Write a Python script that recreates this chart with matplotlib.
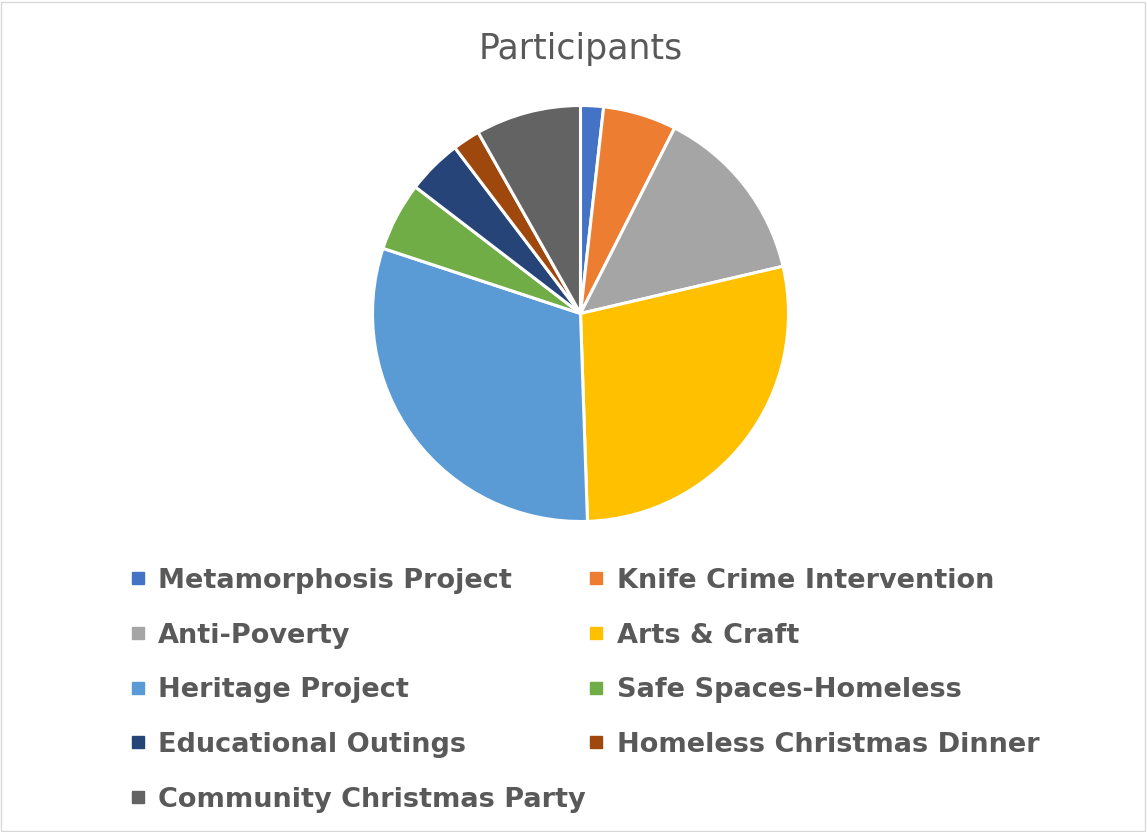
import matplotlib
matplotlib.use("Agg")
import matplotlib.pyplot as plt
from matplotlib.lines import Line2D
from matplotlib.patches import Rectangle

# data (clockwise from 12 o'clock)
labels = ["Metamorphosis Project", "Knife Crime Intervention", "Anti-Poverty",
          "Arts & Craft", "Heritage Project", "Safe Spaces-Homeless",
          "Educational Outings", "Homeless Christmas Dinner",
          "Community Christmas Party"]
values = [5, 16, 39, 79, 86, 15, 12, 6, 23]
colors = ["#4472C4", "#ED7D31", "#A5A5A5", "#FFC000", "#5B9BD5",
          "#70AD47", "#264478", "#9E480E", "#636363"]

W, H = 1147, 832
fig = plt.figure(figsize=(W / 100, H / 100), dpi=100)

# pie centred at (580, 313) px, radius 208 px
cx, cy, r = 580.5, 313.5, 208
ax = fig.add_axes([(cx - r) / W, 1 - (cy + r) / H, 2 * r / W, 2 * r / H])
ax.pie(values, colors=colors, startangle=90, counterclock=False,
       wedgeprops=dict(edgecolor="white", linewidth=2.2))
ax.set_xlim(-1, 1)
ax.set_ylim(-1, 1)
ax.set_aspect("equal")
ax.axis("off")

fig.text(581 / W, 1 - 49 / H, "Participants", ha="center", va="center",
         fontsize=25, color="#595959", family="DejaVu Sans", fontweight="normal")

# legend, two columns filled row by row (matplotlib fills by column)
order = [0, 2, 4, 6, 8, 1, 3, 5, 7]
handles = [Line2D([], [], marker="s", linestyle="none", markersize=8,
                  markerfacecolor=colors[i], markeredgecolor=colors[i]) for i in order]
leg = fig.legend(handles, [labels[i] for i in order], ncol=2, loc="upper left",
                 bbox_to_anchor=(116 / W, 1 - 557 / H), frameon=False,
                 fontsize=19.5, labelspacing=1.06, columnspacing=0.0,
                 handlelength=0.8, handletextpad=0.35, borderaxespad=0)
for t in leg.get_texts():
    t.set_color("#595959")
    t.set_fontweight("bold")

# chart border
fig.patches.append(Rectangle((1 / W, 1 / H), (W - 3) / W, (H - 3) / H,
                             transform=fig.transFigure, fill=False,
                             edgecolor="#D9D9D9", linewidth=1))

fig.savefig("out.png", dpi=100)
